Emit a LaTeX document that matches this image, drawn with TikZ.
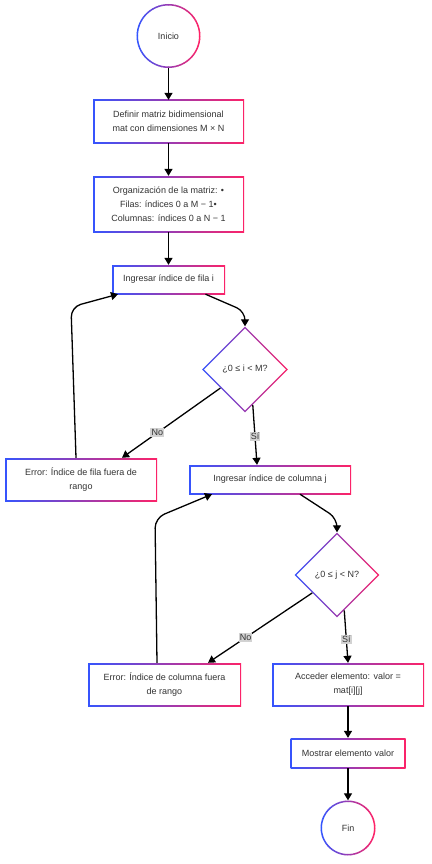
\documentclass[tikz,border=0pt]{standalone}
\usepackage{fontspec}
\setmainfont{Liberation Sans}
\usepackage{xcolor}
\usetikzlibrary{arrows.meta,calc,shapes.geometric}

\definecolor{gradblue}{HTML}{3355FF}
\definecolor{gradpink}{HTML}{FF2266}
\definecolor{txtgray}{HTML}{333333}
\definecolor{lblgray}{HTML}{D2D2D2}

\begin{document}
\begin{tikzpicture}[
    x=1pt,y=-1pt,
    font=\fontsize{9}{14}\selectfont,
    text=txtgray,
    flow/.style={draw=black,line width=1.3pt,-{Triangle[length=7pt,width=8pt]}},
    lbl/.style={fill=lblgray,inner sep=1.2pt,text=txtgray},
    gradshade/.style={left color=gradblue,right color=gradpink},
    stepbox/.style 2 args={rectangle,fill=white,align=center,inner sep=2pt,
        minimum width=#1,minimum height=#2,
        path picture={
            \shade[gradshade] ([shift={(-2pt,-2pt)}]path picture bounding box.south west)
                rectangle ([shift={(2pt,2pt)}]path picture bounding box.north east);
            \fill[white] ([shift={(1.5pt,1.5pt)}]path picture bounding box.south west)
                rectangle ([shift={(-1.5pt,-1.5pt)}]path picture bounding box.north east);
        }},
    decision/.style={diamond,aspect=1,fill=white,minimum width=#1*1pt,minimum height=#1*1pt,inner sep=2pt,
        path picture={
            \shade[gradshade] ([shift={(-2pt,-2pt)}]path picture bounding box.south west)
                rectangle ([shift={(2pt,2pt)}]path picture bounding box.north east);
            \fill[white] ([yshift=-2.1pt]path picture bounding box.north)
                -- ([xshift=-2.1pt]path picture bounding box.east)
                -- ([yshift=2.1pt]path picture bounding box.south)
                -- ([xshift=2.1pt]path picture bounding box.west) -- cycle;
        }},
    terminal/.style={circle,fill=white,minimum size=#1*1pt,inner sep=0pt},
]
    \useasboundingbox (0,0) rectangle (431,864);

    % main column
    \node[terminal=64] (inicio) at (168.5,36) {Inicio};
    \node[stepbox={151pt}{43pt}] (defmat) at (168.5,121.5)
        {Definir matriz bidimensional\\mat con dimensiones M × N};
    \node[stepbox={151pt}{56pt}] (orgmat) at (168.5,204)
        {Organización de la matriz: •\\Filas: índices 0 a M − 1•\\Columnas: índices 0 a N − 1};
    \node[stepbox={113pt}{29pt}] (leefila) at (168.5,279.5) {Ingresar índice de fila i};
    \node[decision=86] (condfila) at (245,369.5) {¿0 ≤ i < M?};
    \node[stepbox={152pt}{43pt}] (errfila) at (81,479.5)
        {Error: Índice de fila fuera de\\rango};
    \node[stepbox={162pt}{29pt}] (leecol) at (270,479.5) {Ingresar índice de columna j};
    \node[decision=85] (condcol) at (337,575) {¿0 ≤ j < N?};
    \node[stepbox={153pt}{43pt}] (errcol) at (164.5,684.5)
        {Error: Índice de columna fuera\\de rango};
    \node[stepbox={152pt}{43pt}] (acceso) at (348,684.5)
        {Acceder elemento: valor =\\mat[i][j]};
    \node[stepbox={115pt}{30pt}] (mostrar) at (348,753) {Mostrar elemento valor};
    \node[terminal=55] (fin) at (348,828) {Fin};

    % gradient rings of the terminals, drawn as short arcs
    \foreach \t/\r in {inicio/31.25,fin/26.75}
        \foreach \a in {0,6,...,354} {
            \pgfmathsetmacro\mixv{50+50*cos(\a+3)}
            \draw[line width=1.5pt,draw=gradpink!\mixv!gradblue]
                (\t.center) ++(\a:\r) arc[start angle=\a,delta angle=6.5,radius=\r];
        }

    % connectors
    \draw[flow] (inicio) -- (defmat);
    \draw[flow] (defmat) -- (orgmat);
    \draw[flow] (orgmat) -- (leefila);
    \draw[flow,rounded corners=9pt] ([xshift=37pt]leefila.south)
        -- ([yshift=15pt]condfila.north) -- (condfila.north);
    \draw[flow] ($(condfila.south)!0.57!(condfila.west)$)
        -- node[lbl,pos=0.64] {No} ([xshift=41pt]errfila.north);
    \draw[flow] ($(condfila.south)!0.18!(condfila.east)$)
        -- node[lbl,pos=0.53] {Sí} ([xshift=-13pt]leecol.north);
    \draw[flow,rounded corners=10pt] ([xshift=-5pt]errfila.north)
        -- (71,307) -- ([xshift=-50.5pt]leefila.south);
    \draw[flow,rounded corners=9pt] ([xshift=30pt]leecol.south)
        -- ([yshift=14pt]condcol.north) -- (condcol.north);
    \draw[flow] ($(condcol.south)!0.58!(condcol.west)$)
        -- node[lbl,pos=0.64] {No} ([xshift=43.5pt]errcol.north);
    \draw[flow] ($(condcol.south)!0.17!(condcol.east)$)
        -- node[lbl,pos=0.55] {Sí} (acceso.north);
    \draw[flow,rounded corners=10pt] ([xshift=-7.5pt]errcol.north)
        -- (155,518) -- ([xshift=-58pt]leecol.south);
    \draw[flow] (acceso) -- (mostrar);
    \draw[flow] (mostrar) -- (fin);
\end{tikzpicture}
\end{document}
